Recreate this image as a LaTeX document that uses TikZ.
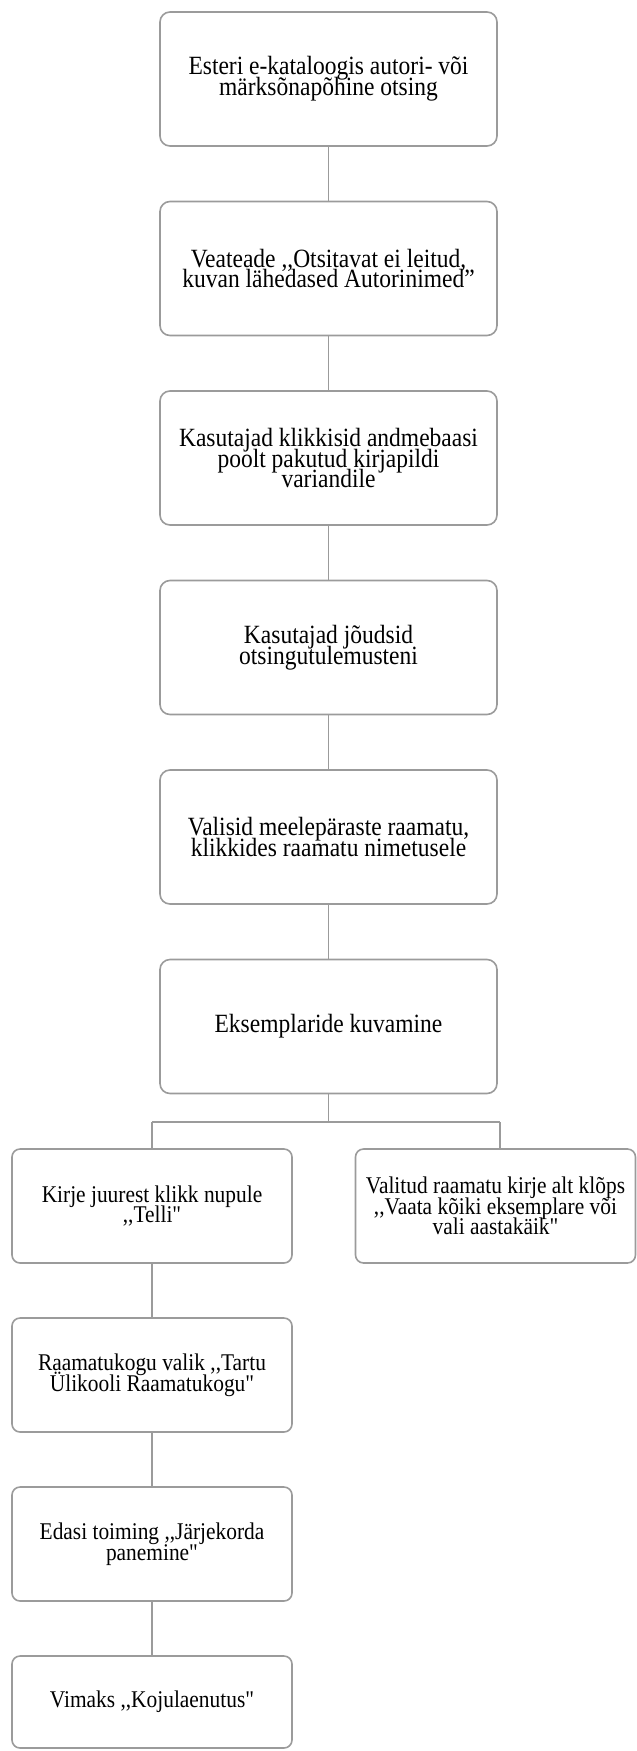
\documentclass[tikz,border=0pt]{standalone}
\usepackage{fontspec}
\setmainfont{Liberation Serif}[Ligatures=TeXOff]
\usepackage{graphicx}
\definecolor{lc}{RGB}{155,155,155}
\newcommand\boxtext[2]{\scalebox{1}[1.12]{\vbox{\fontsize{#1}{18.5}\selectfont\lineskiplimit=-100pt\lineskip=0pt\halign{\hfil##\hfil\cr#2\crcr}}}}
\tikzset{
  mainbox/.style={draw=lc, line width=1.6pt, rounded corners=10pt, fill=white, inner sep=0pt,
    minimum width=337pt, minimum height=134pt},
  lowbox/.style={draw=lc, line width=1.6pt, rounded corners=8pt, fill=white, inner sep=0pt,
    minimum width=280pt, minimum height=114pt},
  conn/.style={draw=lc, line width=1.6pt}
}
\begin{document}
\begin{tikzpicture}[x=1pt,y=-1pt]
\useasboundingbox (0,0) rectangle (637,1751);
\node[mainbox] (b1) at (328.5,79) {\boxtext{23.5}{Esteri e-kataloogis autori- või\cr märksõnapõhine otsing}};
\node[mainbox] (b2) at (328.5,268.5) {\boxtext{23.5}{Veateade ,,Otsitavat ei leitud,\cr kuvan lähedased Autorinimed”}};
\node[mainbox] (b3) at (328.5,458) {\boxtext{23.5}{Kasutajad klikkisid andmebaasi\cr poolt pakutud kirjapildi\cr variandile}};
\node[mainbox] (b4) at (328.5,647.5) {\boxtext{23.5}{Kasutajad jõudsid\cr otsingutulemusteni}};
\node[mainbox] (b5) at (328.5,837) {\boxtext{23.5}{Valisid meelepäraste raamatu,\cr klikkides raamatu nimetusele}};
\node[mainbox] (b6) at (328.5,1026.5) {\boxtext{23.5}{Eksemplaride kuvamine}};
\node[lowbox] (la) at (152,1206) {\boxtext{21.4}{Kirje juurest klikk nupule\cr ,,Telli"}};
\node[lowbox] (ra) at (495.5,1206) {\boxtext{21.4}{Valitud raamatu kirje alt klõps\cr ,,Vaata kõiki eksemplare või\cr vali aastakäik"}};
\node[lowbox] (lb) at (152,1375) {\boxtext{21.4}{Raamatukogu valik ,,Tartu\cr Ülikooli Raamatukogu"}};
\node[lowbox] (lc) at (152,1544) {\boxtext{21.4}{Edasi toiming ,,Järjekorda\cr panemine"}};
\node[lowbox, minimum height=92pt] (ld) at (152,1702) {\boxtext{21.4}{Vimaks ,,Kojulaenutus"}};
\coordinate (brm) at (328.5,1122);
\coordinate (brl) at (152,1122);
\coordinate (brr) at (500,1122);
\draw[conn] (b1.south) -- (b2.north);
\draw[conn] (b2.south) -- (b3.north);
\draw[conn] (b3.south) -- (b4.north);
\draw[conn] (b4.south) -- (b5.north);
\draw[conn] (b5.south) -- (b6.north);
\draw[conn] (b6.south) -- (brm);
\draw[conn] (brl) -- (brr);
\draw[conn] (brl) -- (la.north);
\draw[conn] (brr) -- (ra.north -| brr);
\draw[conn] (la.south) -- (lb.north);
\draw[conn] (lb.south) -- (lc.north);
\draw[conn] (lc.south) -- (ld.north);
\end{tikzpicture}
\end{document}
